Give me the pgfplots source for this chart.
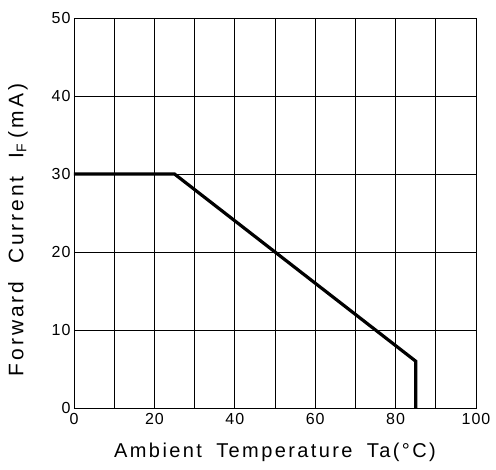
\documentclass[border=0pt]{standalone}
\usepackage{pgfplots}
\pgfplotsset{compat=1.18}
\usepackage{fontspec}
\setmainfont[LetterSpace=6]{Liberation Sans}
\newfontfamily\labfont[LetterSpace=12,WordSpace=1.8]{Liberation Sans}
\newfontfamily\ylabfont[LetterSpace=14,WordSpace=2]{Liberation Sans}
\begin{document}
\begin{tikzpicture}
\useasboundingbox (-74pt,-62pt) rectangle (422pt,408pt);
\begin{axis}[
  scale only axis,
  width=402pt, height=390pt,
  xmin=0, xmax=100, ymin=0, ymax=50,
  xtick={0,20,...,100}, ytick={0,10,...,50},
  minor xtick={10,30,...,90},
  grid=both,
  major grid style={black, line width=0.8pt},
  minor grid style={black, line width=0.8pt},
  axis line style={black, line width=0.8pt},
  major tick length=0pt, minor tick length=0pt,
  /pgf/number format/assume math mode=true,
  ticklabel style={font=\fontsize{16}{18}\selectfont},
  xticklabel style={yshift=-2pt},
  xlabel={Ambient Temperature Ta(°C)},
  ylabel={Forward Current I\raisebox{-3pt}{\fontsize{14}{14}\selectfont F}\hspace{6pt}(mA)},
  xlabel style={font=\labfont\fontsize{20}{24}\selectfont, at={(axis description cs:0.5,0)}, anchor=center, yshift=-44pt},
  ylabel style={font=\ylabfont\fontsize{21}{24}\selectfont, at={(axis description cs:0,0.5)}, anchor=center, xshift=-17pt, yshift=56pt},
]
\addplot[black, line width=3.2pt, line join=miter] coordinates {(0,30) (25,30) (85,6) (85,0)};
\end{axis}
\end{tikzpicture}
\end{document}
